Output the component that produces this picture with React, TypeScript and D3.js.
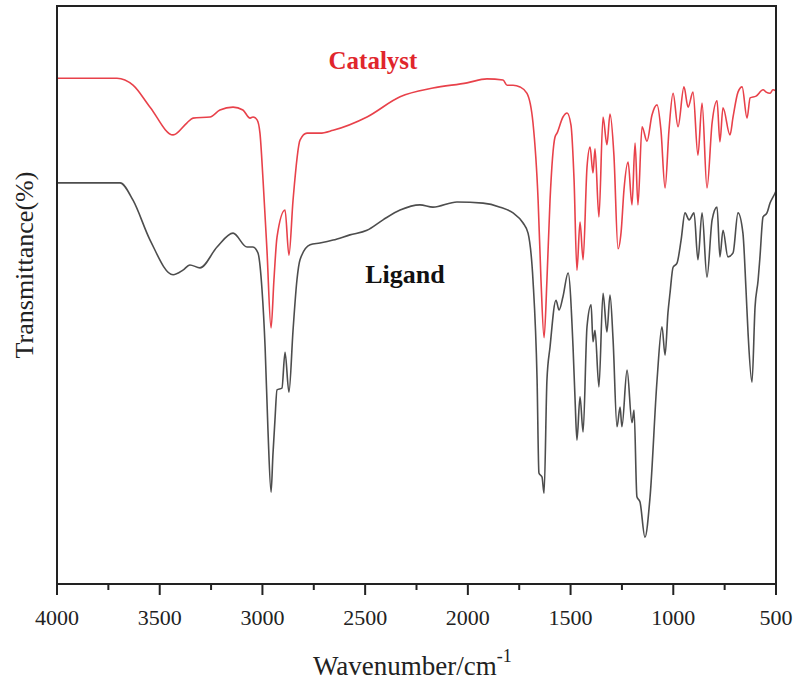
import React from 'react';
import * as d3 from 'd3';

// FT-IR spectra, [wavenumber cm-1, transmittance a.u.]
const catalyst: [number, number][] = [
  [4000, 87.5], [3708, 87.5], [3630, 86.3], [3547, 82.5], [3435, 77.7], [3367, 79.8],
  [3338, 80.6], [3255, 80.8], [3207, 82.0], [3143, 82.5], [3095, 82.0], [3060, 80.6],
  [3046, 80.8], [3026, 80.3], [3012, 78.0], [2997, 69.9], [2978, 57.8], [2958, 44.3],
  [2944, 52.6], [2929, 60.0], [2890, 64.7], [2871, 56.9], [2851, 66.4], [2817, 76.8],
  [2783, 78.0], [2720, 78.0], [2656, 78.5], [2491, 80.8], [2330, 84.3], [2170, 85.8],
  [2004, 86.7], [1907, 87.4], [1829, 87.2], [1809, 86.3], [1780, 86.3], [1746, 86.0],
  [1712, 84.9], [1683, 79.8], [1658, 66.4], [1644, 52.6], [1629, 42.6], [1615, 52.6],
  [1600, 66.4], [1576, 77.3], [1566, 78.0], [1537, 80.8], [1517, 81.5], [1498, 79.4],
  [1483, 69.9], [1469, 54.3], [1454, 62.6], [1439, 56.1], [1420, 72.1], [1405, 75.6],
  [1391, 71.1], [1381, 75.3], [1362, 63.5], [1342, 80.8], [1323, 76.0], [1308, 81.3],
  [1289, 74.2], [1269, 58.0], [1254, 60.9], [1240, 68.2], [1220, 73.0], [1201, 65.6],
  [1186, 76.3], [1172, 65.6], [1152, 79.1], [1128, 76.6], [1104, 81.1], [1079, 82.9],
  [1060, 78.5], [1040, 68.5], [1021, 78.5], [1001, 84.9], [977, 79.1], [948, 86.0],
  [928, 82.5], [904, 85.1], [880, 74.2], [860, 83.2], [836, 68.5], [811, 79.8],
  [787, 83.6], [773, 76.5], [758, 82.4], [724, 77.7], [709, 80.8], [685, 85.1],
  [665, 86.0], [641, 80.6], [626, 84.1], [597, 84.4], [563, 85.5], [548, 85.1],
  [529, 84.9], [515, 85.5], [500, 85.3],
];

const ligand: [number, number][] = [
  [4000, 69.4], [3693, 69.4], [3630, 66.4], [3547, 59.5], [3435, 53.5], [3387, 54.3],
  [3353, 55.2], [3304, 54.7], [3221, 58.3], [3143, 60.7], [3075, 58.3], [3046, 58.3],
  [3022, 57.3], [3002, 50.9], [2987, 41.0], [2973, 26.6], [2958, 15.9], [2949, 22.3],
  [2939, 28.4], [2929, 33.6], [2905, 33.9], [2890, 40.1], [2871, 33.2], [2851, 43.9],
  [2832, 52.6], [2817, 56.1], [2768, 58.7], [2720, 59.0], [2656, 59.5], [2574, 60.4],
  [2491, 61.2], [2413, 63.0], [2330, 64.7], [2233, 65.6], [2170, 65.2], [2053, 66.1],
  [1926, 65.9], [1843, 65.2], [1780, 64.2], [1732, 62.5], [1707, 60.7], [1683, 52.6],
  [1663, 35.3], [1654, 19.2], [1639, 18.5], [1629, 15.7], [1615, 35.3], [1600, 41.0],
  [1571, 49.1], [1556, 47.4], [1537, 49.7], [1512, 53.8], [1488, 41.0], [1478, 31.8],
  [1469, 24.9], [1454, 32.4], [1439, 26.3], [1420, 44.5], [1400, 48.3], [1391, 41.9],
  [1381, 43.9], [1362, 34.1], [1342, 50.3], [1323, 43.6], [1308, 50.0], [1293, 42.2],
  [1274, 27.2], [1259, 30.6], [1250, 27.2], [1225, 37.0], [1201, 27.9], [1191, 30.1],
  [1177, 15.1], [1162, 14.2], [1138, 8.1], [1113, 15.1], [1079, 35.3], [1055, 44.5],
  [1040, 39.6], [1026, 46.9], [1016, 50.3], [1001, 54.8], [982, 55.5], [962, 59.5],
  [943, 64.2], [923, 63.0], [899, 64.2], [880, 56.1], [860, 64.2], [836, 53.1],
  [811, 63.0], [787, 65.2], [773, 56.6], [758, 61.2], [734, 56.6], [709, 57.3],
  [685, 64.2], [661, 60.7], [646, 50.9], [636, 43.4], [617, 34.9], [602, 47.9],
  [587, 52.6], [578, 56.6], [563, 63.5], [544, 64.2], [529, 65.9], [505, 67.6],
  [500, 68.0],
];

const majorTicks = [4000, 3500, 3000, 2500, 2000, 1500, 1000, 500];
const minorTicks = [3750, 3250, 2750, 2250, 1750, 1250, 750];

const W = 800;
const H = 689;
const margin = { top: 6, right: 24, bottom: 105, left: 57 };
const serif = '"Liberation Serif", "Times New Roman", serif';

const App = () => {
  const x = d3.scaleLinear().domain([4000, 500]).range([margin.left, W - margin.right]);
  const y = d3.scaleLinear().domain([0, 100]).range([H - margin.bottom, margin.top]);

  const line = d3.line<[number, number]>()
    .x(d => x(d[0]))
    .y(d => y(d[1]))
    .curve(d3.curveMonotoneX);

  const plotW = W - margin.left - margin.right;
  const plotH = H - margin.top - margin.bottom;
  const y0 = H - margin.bottom;

  return (
    <svg width={W} height={H} style={{ position: 'absolute', left: 0, top: 0, background: '#fff' }}>
      <path d={line(ligand) || ''} fill="none" stroke="#4d4d4d" strokeWidth={1.6} />
      <path d={line(catalyst) || ''} fill="none" stroke="#e8414a" strokeWidth={1.6} />

      <rect x={margin.left} y={margin.top} width={plotW} height={plotH}
        fill="none" stroke="#222" strokeWidth={2} />

      {/* bottom axis ticks */}
      <g stroke="#222" strokeWidth={2}>
        {minorTicks.map(t => (
          <line key={'m' + t} x1={x(t)} x2={x(t)} y1={y0} y2={y0 + 6} />
        ))}
        {majorTicks.map(t => (
          <line key={'M' + t} x1={x(t)} x2={x(t)} y1={y0} y2={y0 + 11} />
        ))}
      </g>
      <g fontFamily={serif} fontSize={22} fill="#222" textAnchor="middle">
        {majorTicks.map(t => (
          <text key={'l' + t} x={x(t)} y={y0 + 41}>{t}</text>
        ))}
      </g>

      <text x={373} y={69} textAnchor="middle" fontFamily={serif} fontWeight="bold"
        fontSize={25} fill="#e0262c">Catalyst</text>
      <text x={405} y={283} textAnchor="middle" fontFamily={serif} fontWeight="bold"
        fontSize={26} fill="#111">Ligand</text>

      <text x={313} y={675} fontFamily={serif} fontSize={27} fill="#222">
        Wavenumber/cm
        <tspan dy={-13} fontSize={18}>-1</tspan>
      </text>
      <text transform="translate(33,265) rotate(-90)" textAnchor="middle"
        fontFamily={serif} fontSize={26} fill="#222">Transmittance(%)</text>
    </svg>
  );
};

export default App;
